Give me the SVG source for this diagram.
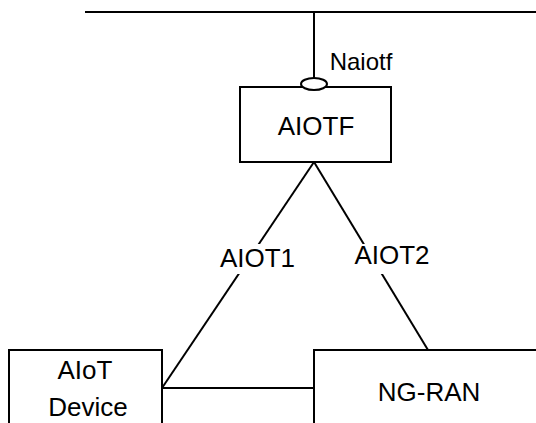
<svg xmlns="http://www.w3.org/2000/svg" width="536" height="423" viewBox="0 0 536 423">
<style>
.box{fill:#fff;stroke:#000;stroke-width:2}
.ln{stroke:#000;stroke-width:2;fill:none}
text{font-family:"Liberation Sans",Arial,sans-serif;font-size:26px;fill:#000;text-anchor:middle}
.lbl{fill:#fff;stroke:none}
</style>
<rect width="536" height="423" fill="#fff"/>
<g id="connectors">
<line class="ln" x1="85" y1="12" x2="536" y2="12"/>
<line class="ln" x1="314" y1="12" x2="314" y2="79"/>
<line class="ln" x1="314" y1="162" x2="162" y2="388"/>
<line class="ln" x1="314" y1="162" x2="428" y2="350"/>
<line class="ln" x1="162" y1="388" x2="314" y2="388"/>
<rect class="lbl" x="217" y="244" width="82" height="30"/>
<rect class="lbl" x="351" y="244" width="82" height="30"/>
<text x="257.5" y="267">AIOT1</text>
<text x="392" y="264">AIOT2</text>
<text x="361" y="70" style="font-size:24px">Naiotf</text>
</g>
<g id="AIOTF">
<rect class="box" x="240" y="87" width="151" height="75"/>
<text x="316" y="135">AIOTF</text>
</g>
<ellipse id="Naiotf-interface" class="box" cx="314" cy="84" rx="13" ry="6"/>
<g id="AIoT-Device">
<rect class="box" x="9" y="350" width="153" height="80"/>
<text x="85" y="379">AIoT</text>
<text x="88" y="416">Device</text>
</g>
<g id="NG-RAN">
<rect class="box" x="314" y="350" width="230" height="80"/>
<text x="429" y="401">NG-RAN</text>
</g>
</svg>
